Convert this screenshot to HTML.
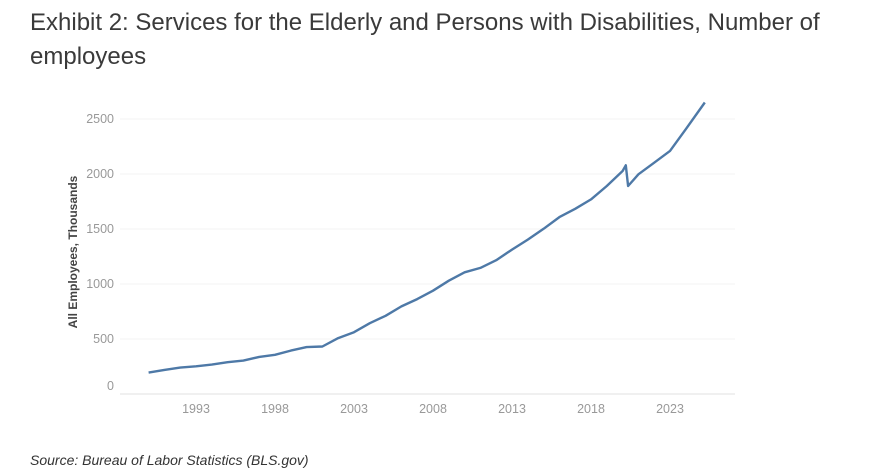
<!DOCTYPE html>
<html><head><meta charset="utf-8"><style>
body{margin:0;width:890px;height:476px;background:#fff;overflow:hidden;font-family:"Liberation Sans",sans-serif}
#title{position:absolute;left:30px;top:6px;font-size:24px;line-height:34px;color:#3a3a3a;width:840px}
#src{position:absolute;left:30px;top:452px;font-size:14px;font-style:italic;color:#333}
svg{position:absolute;left:0;top:0}
</style></head><body>
<div id="title">Exhibit 2: Services for the Elderly and Persons with Disabilities, Number of employees</div>
<div id="src">Source: Bureau of Labor Statistics (BLS.gov)</div>
<svg id="chart" width="890" height="476"></svg>
<script>
const years=[1990,1991,1992,1993,1994,1995,1996,1997,1998,1999,2000,2001,2002,2003,2004,2005,2006,2007,2008,2009,2010,2011,2012,2013,2014,2015,2016,2017,2018,2019,2020,2020.2,2020.35,2021,2022,2023,2024,2025.2];
const values=[195,219,240,252,267,289,304,337,356,395,426,432,508,562,644,711,796,863,939,1030,1106,1146,1216,1313,1404,1502,1608,1684,1769,1891,2027,2079,1891,1997,2103,2210,2407,2650];
const yTicks=[0,500,1000,1500,2000,2500];
const xTicks=[1993,1998,2003,2008,2013,2018,2023];
const NS="http://www.w3.org/2000/svg",svg=document.getElementById('chart');
const X=t=>196+(t-1993)*15.8, Y=v=>394-v*0.11;
function mk(tag,attrs,txt){const e=document.createElementNS(NS,tag);for(const k in attrs)e.setAttribute(k,attrs[k]);if(txt!=null)e.textContent=txt;svg.appendChild(e);return e;}
yTicks.forEach(v=>{
  const g=mk('line',{x1:120,x2:735,y1:Y(v),y2:Y(v),stroke:v===0?'#e0e0e0':'#f3f3f3','stroke-width':1});
  
  
  const t=mk('text',{x:114,y:Y(v)+(v===0?-4:4),'text-anchor':'end','font-size':12.5,fill:'#999'},v);
  
  
});
xTicks.forEach(y=>{
  const t=mk('text',{x:X(y),y:413,'text-anchor':'middle','font-size':12.5,fill:'#999'},y);
  
  
});
const yt=mk('text',{x:0,y:0,transform:'translate(77,252) rotate(-90)','text-anchor':'middle','font-size':12,'font-weight':'bold',fill:'#444'},'All Employees, Thousands');


const p=mk('path',{d:years.map((t,i)=>(i?'L':'M')+X(t).toFixed(1)+','+Y(values[i]).toFixed(1)).join(''),fill:'none',stroke:'#4e79a7','stroke-width':2.4,'stroke-linejoin':'round'});


</script>
</body></html>
